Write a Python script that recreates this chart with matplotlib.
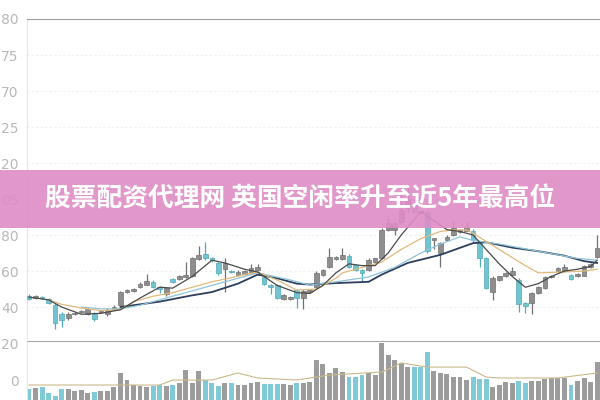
import matplotlib
matplotlib.use("Agg")
import matplotlib.pyplot as plt
from matplotlib.patches import Rectangle

# ---- data ----
OPEN = [46, 45, 45.5, 44.5, 41, 36, 34, 36, 37, 36,
        36, 37, 36, 39, 41, 48.5, 49, 51, 52.5, 54,
        51, 47.5, 55.5, 55.5, 56.5, 57, 66.5, 69.5, 67, 64.5,
        61, 60, 58, 58.5, 59, 60.5, 56.5, 52.5, 52, 44.5,
        44.5, 49.5, 45, 48.5, 51, 58, 62, 66.5, 66.5, 68.5,
        63.5, 60.5, 60.5, 65, 67, 83, 83, 87, 95, 97,
        93, 93, 77.5, 70, 77, 80, 81.5, 82.5, 82.5, 75.5,
        67, 48.5, 55, 57, 58, 55, 42, 42, 48, 50.5,
        56.5, 60, 60, 58, 57, 57.5, 62, 68]
CLOSE = [44.5, 46, 45, 42, 31, 33, 36, 36.5, 38, 39,
         33.5, 37.5, 38.5, 40, 48.5, 49.5, 50, 53, 54.5, 51,
         50, 50.5, 54, 57.5, 58, 67.5, 69, 67, 66, 59,
         64.5, 59.5, 59.5, 60, 61.5, 62, 53, 51, 45, 46.5,
         45.5, 45, 49, 49.5, 59, 60.5, 68, 68, 69, 62,
         60.5, 59, 66, 67, 83, 86.5, 86.5, 94, 100, 93,
         92.5, 71, 78, 75.5, 79, 84, 83, 84.5, 77, 67,
         50.5, 56, 57, 59, 60, 41.5, 40.5, 48, 51, 56.5,
         57.5, 61.5, 62.5, 55.5, 58.5, 63, 64, 73]
HIGH = [47, 46.5, 46, 45, 42, 37, 37, 37, 38.5, 39.5,
        37, 38, 39.5, 41, 49, 50, 50.5, 54, 58.5, 55,
        51.5, 51, 56, 58, 65, 68, 74, 76, 68, 65,
        67, 60.5, 60.5, 60.5, 64, 64, 57.5, 53, 53, 47,
        46, 50, 50, 50, 60, 61, 73, 68.5, 73, 69.5,
        64, 61, 67.5, 67.5, 84, 90, 87, 109, 109, 99,
        94, 94, 78.5, 76, 80, 88, 83.5, 88, 83.5, 76,
        68, 57, 57.5, 59.5, 62, 56, 43, 48.5, 51.5, 57,
        58, 62, 64, 58.5, 59, 63.5, 64.5, 80]
LOW = [44, 44.5, 44.5, 41.5, 28, 29, 33, 35.5, 36.5, 35.5,
       32, 36.5, 35, 38.5, 40.5, 48, 48.5, 50.5, 52, 50.5,
       48, 46, 53.5, 55, 56, 56.5, 66, 66, 65, 58,
       48.5, 59, 57, 58, 58.5, 60, 52.5, 47.5, 44.5, 44,
       44, 39.5, 39, 48, 50.5, 57.5, 61.5, 66, 66, 61.5,
       60, 54, 60, 64.5, 66.5, 82, 80, 86, 93, 92,
       92, 70, 72, 62, 76.5, 79.5, 81, 82, 76, 62,
       50, 44, 54.5, 56.5, 57.5, 37, 36.5, 36, 47.5, 50,
       56, 59.5, 59.5, 55, 56.5, 57, 61.5, 67.5]
VOLUME = [5.9, 6.5, 7.0, 3.8, 2.2, 5.9, 5.9, 4.9, 5.4, 3.8,
          4.3, 4.9, 4.9, 7.0, 14.6, 10.8, 8.1, 7.6, 7.0, 7.6,
          8.1, 7.6, 8.1, 9.2, 16.2, 9.2, 15.7, 10.8, 9.2, 7.6,
          9.2, 9.2, 8.1, 8.1, 9.2, 9.7, 8.6, 8.6, 8.6, 8.6,
          8.1, 9.2, 9.2, 9.7, 21.6, 19.5, 14.6, 17.3, 15.1, 12.4,
          12.4, 13.5, 14.6, 13.5, 30.8, 24.3, 21.6, 20.0, 17.8, 17.8,
          17.8, 25.9, 15.7, 14.6, 14.1, 12.4, 12.4, 10.8, 12.4, 11.4,
          11.4, 7.0, 8.1, 9.7, 9.2, 10.3, 9.2, 10.3, 10.3, 11.4,
          11.9, 11.9, 11.9, 8.1, 10.3, 11.9, 9.7, 20.5]

MA5_IDX = [0, 3, 5, 8, 11, 14, 17, 20, 22, 25, 28, 30, 33, 35, 38, 41, 43, 45, 47, 49,
           51, 53, 55, 57, 60, 62, 64, 66, 68, 70, 72, 74, 76, 78, 80, 82, 84, 86, 87]
MA5_VAL = [45.5, 44, 40, 36, 36.5, 38.5, 45, 51, 50.5, 57, 66, 64.5, 61, 59.5, 52, 48, 47.5, 52, 59, 64,
           63, 63, 70, 80, 93, 88, 83, 82, 80, 72, 64, 57, 51, 53, 57, 60, 61, 62.5, 66]
MA10_IDX = [3, 5, 8, 11, 14, 16, 19, 22, 25, 28, 30, 33, 35, 38, 41, 44, 47, 48, 51, 54,
            57, 60, 63, 65, 67, 68, 72, 76, 78, 82, 85, 87]
MA10_VAL = [44, 41.5, 39.5, 38, 38.5, 43, 46, 48, 51, 54, 55.5, 58, 59.4, 55, 49.4, 50, 56, 59, 62, 65,
            72, 78, 82, 82.8, 82.8, 81, 72, 63, 59, 59.5, 60, 61]
MA20_IDX = [8, 11, 14, 17, 20, 25, 30, 35, 40, 43, 47, 52, 56, 60, 63, 66, 68, 72, 78, 84, 87]
MA20_VAL = [40, 39, 39, 41, 44, 49, 54, 59, 55, 52.2, 54, 56.7, 62, 70, 75, 79, 77, 75, 71, 67, 66]
MA60_IDX = [14, 20, 25, 28, 32, 35, 38, 41, 43, 47, 52, 54, 58, 63, 68, 70, 74, 78, 82, 85, 87]
MA60_VAL = [40, 43, 46.5, 48.3, 53, 58, 56, 53, 52.5, 53.3, 54, 58, 64.5, 69, 75.5, 76, 73, 71, 68.5, 65.5, 64.5]
VMA_IDX = [0, 20, 22, 28, 32, 35, 41, 46, 54, 57, 61, 67, 70, 72, 81, 87]
VMA_VAL = [8.1, 8.1, 10.8, 10.8, 14.6, 11.9, 10.8, 13.5, 15.1, 20, 17.8, 17.8, 12.4, 11.9, 11.9, 14.6]

PRICE_TICKS = [200, 180, 160, 140, 120, 100, 80, 60, 40]
PRICE_TICK_LABELS = ["80", "75", "70", "25", "20", "05", "80", "60", "40"]
VOL_TICKS = [10.8, 30.8]
VOL_TICK_LABELS = ["0", "20"]
TITLE = "股票配资代理网 英国空闲率升至近5年最高位"

# ---- styling ----
UP_FACE, UP_EDGE = "#8e8e8e", "#707070"
DN_FACE, DN_EDGE = "#72c4d0", "#4fa9b8"
TICK_COLOR = "#b8b8b8"

fig = plt.figure(figsize=(6, 4), dpi=100)
fig.patch.set_facecolor("white")
ax = fig.add_axes([0.045, 0.155, 0.955, 0.7975])
axv = fig.add_axes([0.045, 0.0, 0.955, 0.1475])

n = len(OPEN)
xs = list(range(n))
for i, o, c, h, l in zip(xs, OPEN, CLOSE, HIGH, LOW):
    up = c >= o
    face = UP_FACE if up else DN_FACE
    edge = UP_EDGE if up else DN_EDGE
    ax.vlines(i, l, h, color=edge, lw=0.9, zorder=2)
    ax.bar(i, max(abs(c - o), 0.6), bottom=min(o, c), width=0.72,
           color=face, edgecolor=edge, linewidth=0.5, zorder=3)

ax.plot(MA60_IDX, MA60_VAL, color="#2c3e5c", lw=1.3, zorder=4)
ax.plot(MA20_IDX, MA20_VAL, color="#8fc3d8", lw=0.9, zorder=4)
ax.plot(MA10_IDX, MA10_VAL, color="#e2b97c", lw=0.9, zorder=4)
ax.plot(MA5_IDX, MA5_VAL, color="#4a4a4a", lw=0.9, zorder=5)

ax.set_xlim(-0.31, 87.44)
ax.set_ylim(22.8, 200)
ax.set_xticks([])
ax.set_yticks(PRICE_TICKS)
ax.set_yticklabels(PRICE_TICK_LABELS, color=TICK_COLOR, fontsize=10)
ax.tick_params(axis="y", length=0, pad=6)
ax.yaxis.grid(True, color="#f1f1f1", linestyle=(0, (2, 2)), lw=0.8)
ax.set_axisbelow(True)
for s in ("right", "bottom"):
    ax.spines[s].set_visible(False)
ax.spines["top"].set_color("#a0a0a0")
ax.spines["top"].set_linewidth(0.8)
ax.spines["left"].set_color("#e6e6e6")

vcols = [("#9c9c9c" if c >= o else "#80cad8") for o, c in zip(OPEN, CLOSE)]
axv.bar(xs, VOLUME, width=0.75, color=vcols, zorder=2)
axv.plot(VMA_IDX, VMA_VAL, color="#c9b98a", lw=0.8, zorder=3)
axv.set_xlim(-0.31, 87.44)
axv.set_ylim(0, 31.9)
axv.set_xticks([])
axv.set_yticks(VOL_TICKS)
axv.set_yticklabels(VOL_TICK_LABELS, color=TICK_COLOR, fontsize=10)
axv.tick_params(axis="y", length=0, pad=6)
for s in ("right", "bottom"):
    axv.spines[s].set_visible(False)
axv.spines["top"].set_color("#a8a8a8")
axv.spines["top"].set_linewidth(0.8)
axv.spines["left"].set_color("#e6e6e6")

# pink banner over the chart
fig.add_artist(Rectangle((0, 0.43), 1, 0.145, transform=fig.transFigure,
                         facecolor="#df8cc6", alpha=0.9, edgecolor="none", zorder=10))
fig.text(0.5, 0.5025, TITLE, color="white", fontsize=18.5, fontweight="bold",
         ha="center", va="center", family=["Noto Sans CJK SC", "DejaVu Sans"], zorder=11)

fig.savefig("out.png", dpi=100)
